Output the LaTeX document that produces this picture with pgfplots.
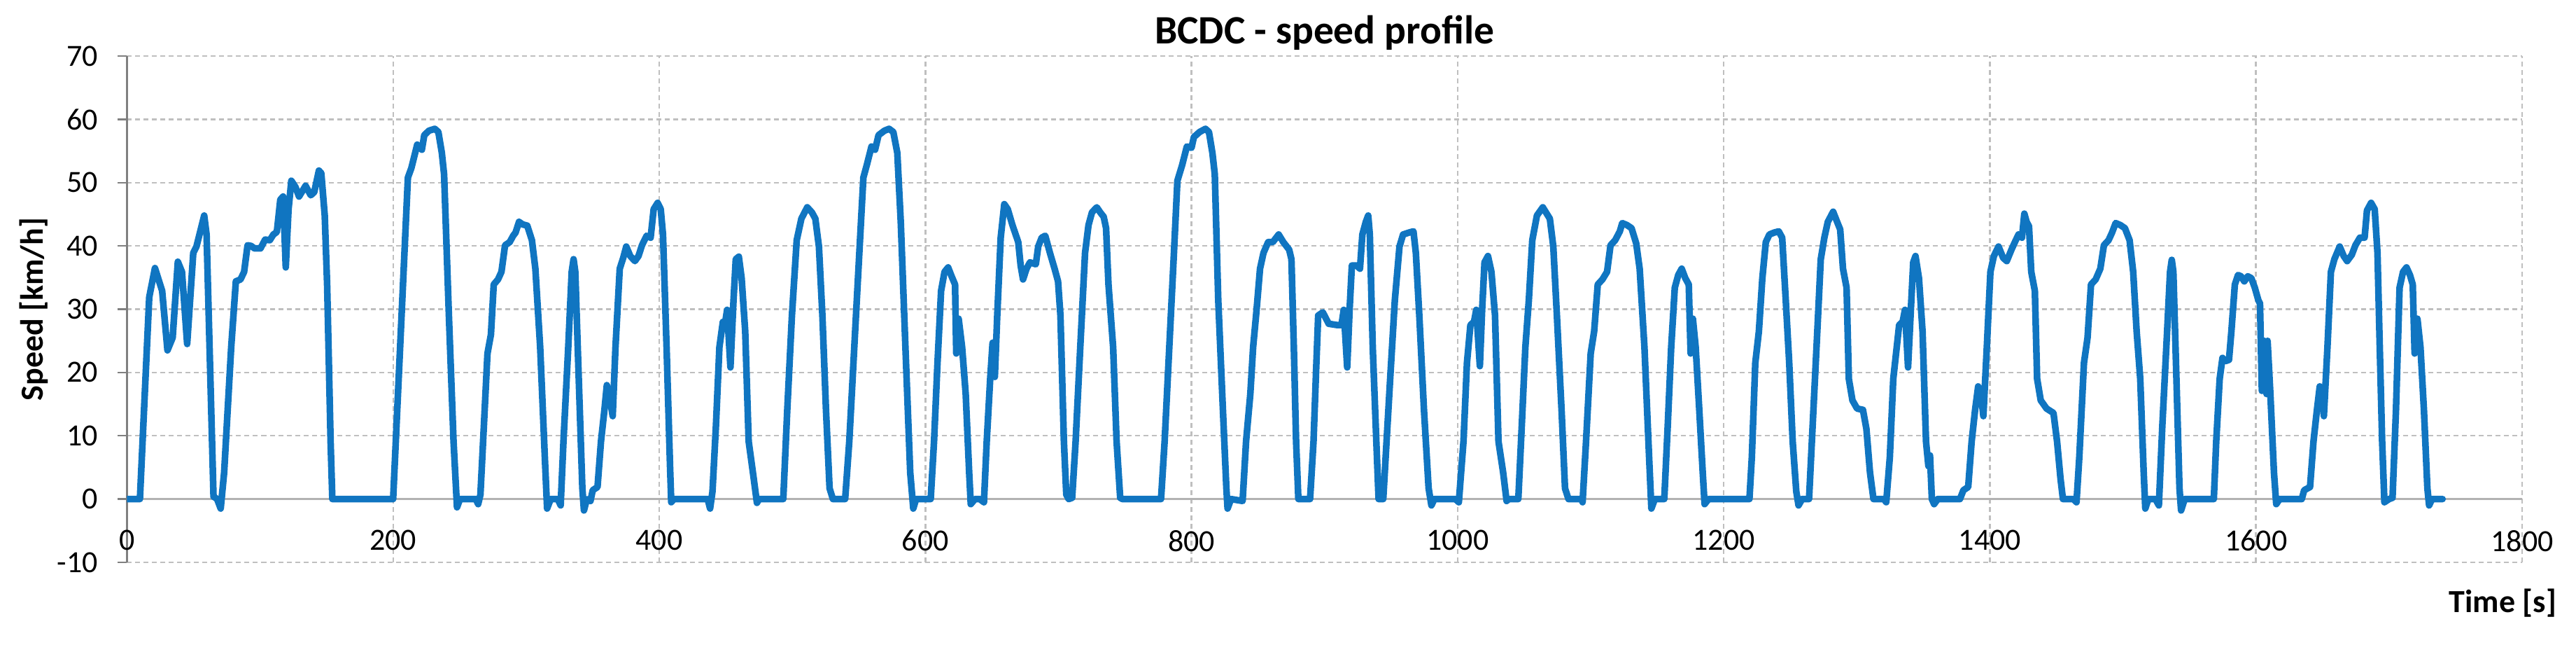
\documentclass[border=0pt]{standalone}
\usepackage{fontspec}
\setmainfont{Carlito}
\usepackage{pgfplots}
\pgfplotsset{compat=1.18}
\definecolor{lineblue}{RGB}{16,117,193}
\begin{document}
\begin{tikzpicture}
\begin{axis}[
  at={(0,0)}, anchor=south west,
  scale only axis, width=684.5pt, height=144.6pt,
  xmin=0, xmax=1800, ymin=-10, ymax=70,
  xtick={0,200,...,1800}, ytick={-10,0,...,70},
  axis x line=middle, axis y line=left,
  hide obscured x ticks=false, hide obscured y ticks=false,
  axis line style={-, draw=black!30, line width=0.6pt},
  y axis line style={draw=black!50},
  grid=major,
  major grid style={draw=black!25, line width=0.5pt, dash pattern=on 1.4pt off 1pt},
  xtick style={draw=none},
  ytick style={draw=black!50, line width=0.5pt},
  tick align=outside, major tick length=2.6pt,
  /pgf/number format/assume math mode=true,
  /pgf/number format/1000 sep={},
  tick label style={font=\fontsize{8.8}{10}\selectfont},
  xticklabel style={anchor=north, inner sep=0pt, yshift=-6.1pt},
  yticklabel style={anchor=east, inner sep=0pt, xshift=-5.5pt},
  title={BCDC - speed profile},
  every axis title/.style={at={(axis description cs:0.5,1)}, anchor=base, yshift=3.6pt, inner sep=0pt, font=\fontsize{11.5}{13}\selectfont\bfseries},
  xlabel={Time [s]}, ylabel={Speed [km/h]},
  every axis x label/.style={at={(axis description cs:1,0)}, anchor=north east, inner sep=0pt, xshift=10pt, yshift=-7.4pt, font=\fontsize{9.2}{11}\selectfont\bfseries},
  every axis y label/.style={at={([xshift=-26.7pt]axis description cs:0,0.5)}, rotate=90, anchor=center, inner sep=0pt, font=\fontsize{9.2}{11}\selectfont\bfseries},
]
\addplot[lineblue, line width=1.9pt, line join=round, line cap=round] coordinates {
(0,0) (9.7,0) (16.7,31.9) (21,36.5) (26.4,32.9) (30.4,23.5) (34.3,25.5) (38.2,37.5) (41.3,35.9) (45.2,24.5)
(49.8,38.9) (52.2,39.9) (58,44.8) (59.8,41.8) (65,0.4) (67.7,0) (70.4,-1.5) (73,4.2) (78.3,24) (81.8,34.4)
(85.3,34.7) (88,35.9) (90.6,40.1) (93.2,40) (95.9,39.6) (100.3,39.6) (103.8,41) (107.3,40.9) (110,41.8) (112.6,42.2)
(115.2,47.3) (117.3,47.8) (119.3,36.6) (121.4,45.8) (123.5,50.3) (126.6,49.3) (129.3,47.8) (134.2,49.5) (138.1,48) (140.7,48.5)
(144.2,51.9) (146,51.5) (148.6,44.8) (150.4,33.9) (153,9.1) (154.3,0) (200,0)
(211.1,50.8) (213.7,52.3) (218.1,56) (219.9,55.5) (221.6,55.2) (223.4,57.5) (226.9,58.2) (231.3,58.5) (234,58) (236.6,54.7)
(238.3,51.3) (241.9,29) (245.4,9.1) (248,-1.3) (250.3,0) (262.1,0) (263.9,-0.8) (265.6,0.7) (268.2,11.6) (270.9,23)
(273.5,26) (275.6,33.9) (278.8,34.7) (281.4,35.9) (284.1,40.1) (287.6,40.6) (290.2,41.6) (292,42.1) (294.6,43.8) (297.3,43.4)
(300.8,43.2) (304.3,40.9) (306.9,36.4) (310.5,24) (314,6.6) (315.7,-1.5) (318.4,0) (323.7,0) (325.9,-1) (328,9.1)
(331.6,24) (334.2,35.9) (335.6,37.9) (336.9,35.9) (339.5,19) (342.2,1.7) (343.4,-1.8) (345.6,0) (348.3,-0.3) (350,1.4)
(353.6,1.9) (356.2,9.1) (358.8,14.1) (360.6,18) (362.4,16.6) (365,13.1) (367.1,24) (370.3,36.4) (372.9,38.1) (375.2,39.9)
(378.2,38.4) (381.7,37.6) (384.4,38.4) (387,40.1) (390.5,41.6) (393.5,41.3) (395.8,45.8) (398.8,46.8) (401.1,45.8) (402.8,41.8)
(405.5,24) (408.1,5.2) (409,-0.5) (411,0) (436.4,0) (438.2,-1.5) (440,1.2) (442.6,11.6) (445.2,24) (447.8,28)
(449.6,28) (451,29.9) (453.5,20.8) (455.8,31.4) (457.5,37.9) (459.8,38.3) (461.9,34.9) (464.6,26.5) (467.2,9.1) (470.7,3.7)
(473.4,-0.6) (475.1,0) (493.2,0) (496.2,14.1) (499.7,29) (503.3,40.9) (506.8,44.3) (511.2,46.1) (514.7,45.3) (517.3,44.3)
(520,39.9) (522.6,29) (525.3,14.1) (528,1.7) (530.5,0) (539.7,0) (542.8,9.1) (547.2,26.5) (551.6,43.8) (553.4,50.8)
(556,52.8) (559.5,55.7) (562.2,55.2) (564.8,57.5) (569.2,58.2) (572.7,58.5) (575.9,58) (578.9,54.7) (581.5,43.8) (585,24)
(588.6,4.2) (590.9,-1.5) (593,0) (604,0) (606.5,9.1) (609.1,21.5) (611.8,32.9) (614.4,35.9) (617.1,36.6) (619.7,35.2)
(622.3,33.9) (623.2,23) (625,28.5) (627.6,24) (630.3,16.6) (632.9,4.2) (634.1,-0.8) (637.3,0) (640.8,0) (644,-0.5)
(646.1,9.1) (648.7,19) (650.5,24.7) (652.2,19.3) (654,29) (656.6,41.3) (659.3,46.6) (661.9,45.8) (665.4,43.3) (669.8,40.6)
(671.6,36.9) (673.4,34.7) (676,36.4) (678.6,37.4) (683,37.1) (684.8,39.9) (687.4,41.3) (690.1,41.6) (693.6,38.9) (697.1,36.4)
(699.7,34.4) (701.5,29) (704.1,9.1) (705.9,0.7) (707.7,0) (710.3,0.2) (712.9,9.1) (716.4,24) (720,38.9) (722.6,43.3)
(725.2,45.3) (728.8,46.1) (731.4,45.3) (734,44.6) (735.8,42.8) (737.6,33.9) (741.1,24) (743.7,9.1) (746.4,0.2) (748.1,0)
(777.1,0) (779.8,9.1) (783.3,24) (786.8,38.9) (789.4,50.3) (793,52.8) (796.5,55.7) (800,55.5) (801.8,57.2) (806.1,58)
(810.5,58.5) (813.1,58) (815.7,54.7) (817.5,51.3) (820.1,31.4) (823.6,14.1) (826.2,1.7) (827.1,-1.5) (829.7,0) (838.4,-0.3)
(841,9.1) (844.2,16.6) (846.3,24) (848.9,29.9) (851.5,36.4) (854.1,38.9) (857.6,40.6) (861.1,40.6) (865.5,41.8) (869,40.6)
(873.4,39.4) (875.1,37.9) (876.9,24) (878.6,9.1) (880.3,0) (889.1,0) (891.7,9.1) (893.4,19) (895.2,29) (898.7,29.5)
(903.1,27.7) (909.2,27.5) (912.7,27.5) (914.4,29.9) (917,20.8) (918.8,29.9) (920.5,36.9) (924,36.9) (926.6,36.4) (928.4,41.8)
(931,43.8) (932.8,44.8) (934,41.8) (936.2,24) (938.9,9.1) (940.6,0) (944.1,0) (945.9,6.6) (949.3,19) (952.8,31.4)
(956.3,39.9) (959,41.8) (963.3,42.1) (966.8,42.3) (968.6,38.9) (971.2,29) (974.7,14.1) (978.2,1.7) (980.3,-1) (982.5,0)
(998.3,0) (1000.9,-0.5) (1004.4,9.1) (1007,21.5) (1009.6,27.5) (1012.3,28) (1014,29.9) (1016.7,21) (1018.4,29.9) (1020.2,37.4)
(1022.8,38.4) (1025.4,35.9) (1028.1,29) (1030.7,9.1) (1034.2,4.2) (1036.8,-0.3) (1038.5,0) (1045.6,0) (1048.2,11.6) (1050.9,24)
(1053.5,31.4) (1056.1,40.9) (1059.6,44.8) (1064,46.1) (1069.3,44.3) (1071.9,39.9) (1074.6,29) (1078.1,14.1) (1080.7,1.7) (1083.3,0)
(1093,0) (1093.9,-0.5) (1096.5,9.1) (1100,23) (1102.6,26.5) (1105.3,33.9) (1108.8,34.7) (1112.3,35.9) (1114.9,40.1) (1118.4,40.9)
(1121.9,42.3) (1123.7,43.6) (1127.2,43.3) (1130.7,42.8) (1134.2,40.4) (1136.8,36.4) (1140.4,24) (1143.9,6.6) (1145.6,-1.5) (1148.2,0)
(1155.3,0) (1157.9,11.6) (1160.5,24) (1163.2,33.4) (1165.8,35.4) (1168.4,36.4) (1171.1,34.9) (1173.7,33.9) (1175.1,23) (1176.8,28.5)
(1178.9,24) (1181.6,14.1) (1184.2,4.2) (1185.6,-0.8) (1188.6,0) (1219.3,0) (1221.1,6.6) (1223.7,21.5) (1226.4,26.5) (1229,34.9)
(1231.6,40.6) (1234.3,41.8) (1237.8,42.1) (1241.3,42.3) (1243.9,41.3) (1246.6,31.4) (1249.2,21.5) (1251.8,9.1) (1254.5,1.2) (1256.2,-1)
(1258.9,0) (1264.1,0) (1266.8,11.6) (1270.3,26.5) (1272.9,37.9) (1275.6,41.3) (1278.2,43.8) (1282.2,45.4) (1285.2,43.8) (1287.5,42.6)
(1289.6,36.4) (1292.3,33.4) (1294,19) (1296.7,15.6) (1300.2,14.3) (1304.6,14.1) (1307.2,11.1) (1309.9,4.2) (1312.5,0) (1320.4,0)
(1322.1,-0.5) (1324.8,6.6) (1327.4,19) (1330,24) (1331.8,27.5) (1334.4,28) (1336.2,29.9) (1338.5,20.8) (1340.6,29.9) (1342.4,37.4)
(1344.1,38.4) (1346.7,34.9) (1349.4,26.5) (1352,9.1) (1353.8,5.2) (1355,6.9) (1356.4,0) (1358.1,-0.8) (1360.8,0) (1377.5,0)
(1380.1,1.4) (1383.7,1.9) (1386.3,9.1) (1388.9,14.1) (1391.2,17.8) (1393.3,16.6) (1395.1,13.1) (1397.7,24) (1400.4,35.9) (1403,38.4)
(1406.5,39.9) (1410,38.1) (1412.7,37.6) (1416.2,39.4) (1418.8,40.6) (1421.5,41.8) (1424.1,41.3) (1425.9,45.1) (1427.6,43.8) (1429.4,43.1)
(1431.1,35.9) (1433.8,32.9) (1435.5,19) (1438.2,15.6) (1442.6,14.3) (1447.8,13.6) (1450.5,9.1) (1453.1,3.2) (1454.9,0) (1462.8,0)
(1465.1,-0.5) (1467.2,6.6) (1470.7,21.5) (1473.4,25.5) (1476,33.9) (1479.5,34.7) (1483,36.4) (1485.7,40.1) (1489.2,40.9) (1491.8,42.1)
(1494.5,43.6) (1498,43.3) (1501.5,42.8) (1505,40.9) (1507.7,35.9) (1510.3,26.5) (1513,19) (1515.6,4.2) (1516.8,-1.5) (1519.1,0)
(1524.4,0) (1527,-1) (1529.6,11.6) (1533.2,26.5) (1535.4,35.9) (1536.7,37.8) (1537.9,35.9) (1540.2,19) (1542.5,1.7) (1543.7,-1.8)
(1546.4,0) (1568.3,0) (1570.1,9.1) (1572.7,19) (1574.8,22.3) (1577.1,21.8) (1579.7,22) (1581.5,26.5) (1584.1,33.9) (1586.5,35.4)
(1588.7,35.2) (1591.2,34.4) (1593.8,35.2) (1596.5,34.9) (1599.1,33.4) (1601.8,31.4) (1603,30.9) (1604.4,17.1) (1606.2,25) (1607.9,16.6)
(1608.7,25) (1610.8,16.6) (1613.5,4.2) (1615.2,-0.8) (1617.8,0) (1634.4,0) (1636.2,1.4) (1640.6,1.9) (1643.2,9.1) (1645.8,14.1)
(1647.9,17.8) (1649.7,16.6) (1651,13.1) (1653.7,24) (1656.3,35.9) (1658.9,37.9) (1662.9,39.9) (1665.9,38.4) (1668.5,37.6) (1672,38.6)
(1674.7,40.1) (1678.1,41.3) (1681.6,41.3) (1683.4,45.6) (1686.5,46.8) (1689.2,45.8) (1691.3,38.9) (1693,24) (1694.8,9.1) (1696.5,-0.5)
(1700,0) (1702.6,0.2) (1705.2,14.1) (1707.9,33.4) (1710.5,35.9) (1713.1,36.6) (1715.7,35.4) (1717.8,33.9) (1719.2,23) (1721.3,28.5)
(1723.6,24) (1726.2,14.1) (1728.8,1.7) (1730.1,-1) (1732.3,0) (1740.2,0)
};
\end{axis}
\path (-36.3pt,-23.6pt) rectangle (699.9pt,160.6pt);
\end{tikzpicture}
\end{document}
